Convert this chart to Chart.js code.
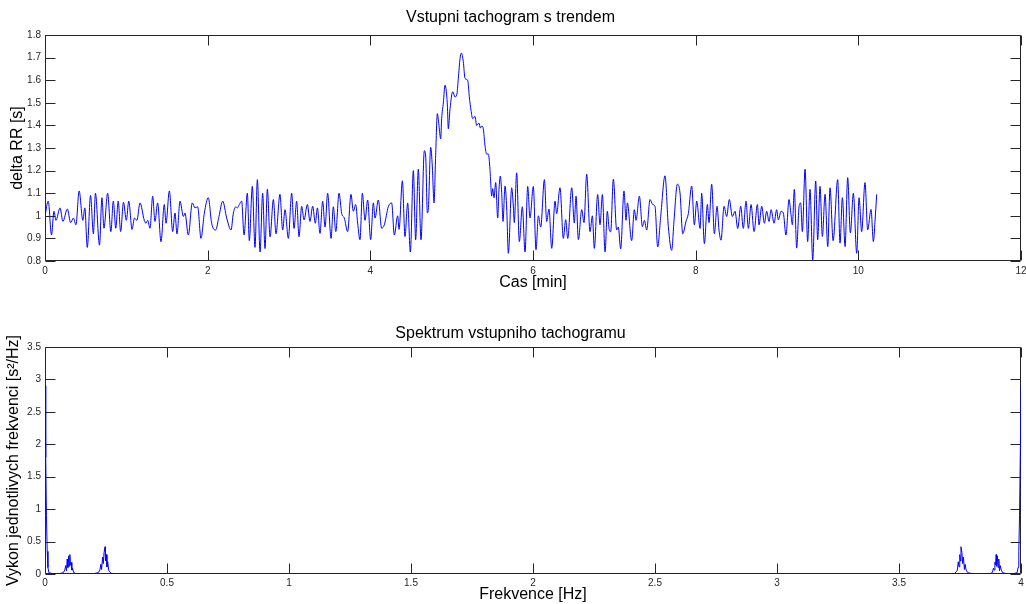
<!DOCTYPE html>
<html>
<head>
<meta charset="utf-8">
<title>Tachogram</title>
<script src="https://cdn.jsdelivr.net/npm/chart.js@4.4.1/dist/chart.umd.min.js"></script>
<style>
  html, body { margin: 0; padding: 0; background: #fff; }
  .plot { position: absolute; left: 0; width: 1026px; height: 302px; }
  #tachoPlot { top: 0; }
  #specPlot { top: 302px; }
</style>
</head>
<body>
<div class="plot" id="tachoPlot"><canvas id="tachoChart"></canvas></div>
<div class="plot" id="specPlot"><canvas id="specChart"></canvas></div>
<script>
// RR intervals over time [min] and [s]
const tachoTime = [
  0.000, 0.040, 0.080, 0.110, 0.135, 0.185, 0.220, 0.275, 0.315, 0.350,
  0.380, 0.420, 0.465, 0.490, 0.520, 0.560, 0.595, 0.620, 0.670, 0.700,
  0.725, 0.770, 0.810, 0.840, 0.870, 0.900, 0.930, 0.965, 1.000, 1.030,
  1.070, 1.100, 1.130, 1.168, 1.221, 1.242, 1.262, 1.291, 1.324, 1.352,
  1.385, 1.426, 1.467, 1.488, 1.529, 1.570, 1.598, 1.623, 1.660, 1.701,
  1.721, 1.762, 1.811, 1.844, 1.877, 1.918, 1.959, 2.008, 2.049, 2.098,
  2.139, 2.185, 2.234, 2.287, 2.316, 2.348, 2.365, 2.389, 2.418, 2.447,
  2.488, 2.512, 2.549, 2.582, 2.611, 2.644, 2.676, 2.705, 2.734, 2.767,
  2.808, 2.840, 2.889, 2.922, 2.951, 2.992, 3.033, 3.062, 3.094, 3.123,
  3.156, 3.185, 3.226, 3.258, 3.291, 3.324, 3.349, 3.381, 3.414, 3.443,
  3.475, 3.517, 3.545, 3.575, 3.615, 3.648, 3.680, 3.721, 3.762, 3.791,
  3.820, 3.844, 3.873, 3.902, 3.935, 3.967, 4.004, 4.037, 4.058, 4.098,
  4.139, 4.172, 4.221, 4.262, 4.295, 4.336, 4.353, 4.394, 4.426, 4.459,
  4.492, 4.529, 4.557, 4.590, 4.623, 4.664, 4.681, 4.701, 4.713, 4.742,
  4.762, 4.783, 4.803, 4.824, 4.844, 4.865, 4.877, 4.898, 4.918, 4.930,
  4.947, 4.959, 4.980, 5.013, 5.041, 5.062, 5.082, 5.103, 5.119, 5.143,
  5.164, 5.197, 5.217, 5.238, 5.258, 5.287, 5.307, 5.336, 5.353, 5.369,
  5.389, 5.410, 5.430, 5.451, 5.471, 5.492, 5.504, 5.521, 5.541, 5.566,
  5.582, 5.598, 5.615, 5.631, 5.656, 5.677, 5.697, 5.738, 5.758, 5.770,
  5.799, 5.832, 5.869, 5.902, 5.935, 5.963, 6.004, 6.037, 6.066, 6.095,
  6.140, 6.168, 6.197, 6.230, 6.271, 6.291, 6.332, 6.373, 6.402, 6.427,
  6.476, 6.508, 6.529, 6.558, 6.599, 6.627, 6.660, 6.701, 6.730, 6.754,
  6.795, 6.824, 6.853, 6.886, 6.914, 6.935, 6.955, 6.988, 7.029, 7.049,
  7.078, 7.119, 7.144, 7.160, 7.213, 7.246, 7.267, 7.308, 7.345, 7.370,
  7.398, 7.439, 7.472, 7.500, 7.533, 7.570, 7.623, 7.664, 7.705, 7.734,
  7.775, 7.808, 7.841, 7.881, 7.910, 7.951, 7.984, 8.013, 8.054, 8.074,
  8.107, 8.144, 8.164, 8.197, 8.230, 8.263, 8.287, 8.312, 8.349, 8.381,
  8.414, 8.451, 8.484, 8.517, 8.554, 8.586, 8.619, 8.648, 8.681, 8.718,
  8.759, 8.779, 8.812, 8.845, 8.873, 8.902, 8.927, 8.964, 8.996, 9.016,
  9.050, 9.078, 9.110, 9.148, 9.172, 9.189, 9.213, 9.242, 9.271, 9.291,
  9.312, 9.345, 9.377, 9.406, 9.439, 9.476, 9.500, 9.529, 9.558, 9.591,
  9.624, 9.652, 9.690, 9.746, 9.775, 9.804, 9.837, 9.869, 9.902, 9.939,
  9.980, 10.009, 10.041, 10.082, 10.115, 10.156, 10.185, 10.205, 10.226
];
const tachoRR = [
  1.000, 1.065, 0.915, 1.020, 0.980, 1.035, 0.975, 1.030, 0.970, 0.990,
  0.960, 1.110, 0.980, 1.035, 0.860, 1.090, 0.920, 1.100, 0.870, 1.080,
  0.945, 1.100, 0.930, 1.065, 0.945, 1.065, 0.930, 1.060, 0.980, 1.065,
  0.940, 0.990, 0.980, 1.057, 0.980, 0.967, 0.980, 0.945, 1.087, 0.975,
  1.057, 0.885, 1.050, 0.967, 1.110, 0.930, 1.012, 0.920, 1.065, 0.997,
  1.012, 0.915, 1.057, 1.035, 1.040, 0.900, 1.012, 1.080, 0.967, 0.937,
  0.997, 1.065, 0.990, 0.937, 1.012, 1.040, 1.035, 1.050, 1.065, 0.915,
  1.100, 0.890, 1.130, 0.860, 1.160, 0.840, 1.100, 0.855, 1.117, 0.907,
  1.072, 0.920, 1.095, 0.937, 1.027, 0.900, 1.100, 0.944, 1.065, 0.907,
  1.042, 0.982, 1.050, 0.975, 1.042, 0.967, 1.035, 0.922, 1.065, 0.950,
  1.100, 0.900, 1.040, 0.930, 1.100, 1.010, 0.990, 0.930, 1.095, 1.020,
  1.050, 0.968, 0.894, 1.100, 0.980, 1.070, 0.894, 1.057, 0.990, 1.070,
  0.945, 0.960, 1.040, 1.057, 0.915, 1.000, 0.940, 1.155, 0.908, 1.057,
  0.840, 1.200, 0.894, 1.206, 0.894, 1.288, 1.260, 1.013, 1.028, 1.303,
  1.220, 1.057, 1.266, 1.452, 1.400, 1.340, 1.430, 1.500, 1.578, 1.563,
  1.490, 1.385, 1.474, 1.549, 1.526, 1.534, 1.608, 1.697, 1.720, 1.682,
  1.608, 1.600, 1.526, 1.467, 1.430, 1.440, 1.400, 1.410, 1.388, 1.397,
  1.385, 1.310, 1.273, 1.273, 1.206, 1.087, 1.120, 1.080, 1.147, 0.990,
  1.117, 1.176, 1.102, 0.975, 1.132, 1.030, 0.834, 1.124, 1.043, 0.970,
  1.190, 0.886, 1.040, 0.840, 1.130, 0.990, 1.130, 0.850, 1.000, 0.950,
  1.160, 0.975, 1.030, 0.856, 1.065, 1.010, 1.124, 0.900, 0.983, 0.900,
  1.124, 0.968, 1.087, 0.894, 1.027, 0.970, 1.184, 0.930, 1.000, 0.856,
  1.094, 0.960, 1.094, 0.840, 1.020, 0.944, 0.929, 1.162, 0.937, 0.950,
  0.854, 1.110, 0.980, 1.057, 0.890, 1.027, 0.980, 1.087, 0.952, 0.980,
  0.937, 1.072, 1.050, 1.042, 0.862, 0.997, 1.177, 0.952, 0.847, 0.980,
  1.140, 1.100, 0.920, 0.975, 1.010, 1.132, 0.960, 1.065, 0.944, 1.100,
  0.877, 1.050, 0.970, 1.140, 0.920, 1.042, 0.937, 0.892, 1.042, 0.997,
  1.072, 0.997, 1.020, 0.944, 1.042, 0.944, 1.065, 0.944, 1.050, 0.930,
  1.050, 0.960, 1.042, 0.967, 1.020, 0.975, 1.027, 0.967, 1.027, 0.982,
  1.020, 1.012, 0.915, 1.072, 1.005, 0.960, 1.117, 0.857, 1.040, 1.057,
  0.930, 1.206, 0.886, 1.117, 0.805, 1.154, 0.894, 1.130, 0.909, 1.095,
  0.864, 1.124, 0.890, 1.160, 0.879, 1.080, 0.864, 1.169, 0.924, 1.100,
  0.834, 1.080, 0.930, 1.147, 0.938, 1.028, 0.886, 0.976, 1.095
];

// power spectrum of the tachogram, frequency [Hz] and power [s^2/Hz]
const specFreq = [
  0, 0.003, 0.006, 0.009, 0.012, 0.016, 0.03, 0.05, 0.065, 0.075,
  0.081, 0.085, 0.088, 0.091, 0.094, 0.097, 0.1, 0.102, 0.104, 0.107,
  0.11, 0.113, 0.117, 0.125, 0.16, 0.2, 0.218, 0.225, 0.229, 0.232,
  0.236, 0.239, 0.242, 0.246, 0.248, 0.251, 0.254, 0.257, 0.261, 0.265,
  0.272, 0.3, 0.5, 1, 1.5, 2, 2.5, 3, 3.5,
  3.7, 3.728, 3.735, 3.739, 3.743, 3.746, 3.749, 3.752, 3.754, 3.758,
  3.761, 3.764, 3.768, 3.771, 3.775, 3.782, 3.8, 3.84, 3.875, 3.883,
  3.887, 3.89, 3.893, 3.896, 3.898, 3.9, 3.903, 3.906, 3.909, 3.912,
  3.915, 3.919, 3.925, 3.935, 3.95, 3.97, 3.984, 3.988, 3.991, 3.994,
  3.997, 4
];
const specPower = [
  2.9, 1.8, 0.9, 0.35, 0.1, 0.02, 0.006, 0.004, 0.01, 0.02,
  0.06, 0.13, 0.05, 0.23, 0.1, 0.28, 0.12, 0.30, 0.14, 0.18,
  0.06, 0.09, 0.025, 0.008, 0.003, 0.006, 0.02, 0.06, 0.15, 0.07,
  0.26, 0.16, 0.33, 0.42, 0.2, 0.30, 0.11, 0.19, 0.06, 0.035,
  0.01, 0.003, 0.001, 0.001, 0.001, 0.001, 0.001, 0.001, 0.001,
  0.003, 0.01, 0.035, 0.06, 0.19, 0.11, 0.30, 0.2, 0.42, 0.33,
  0.16, 0.26, 0.07, 0.15, 0.06, 0.02, 0.006, 0.003, 0.008, 0.025,
  0.09, 0.06, 0.18, 0.14, 0.30, 0.12, 0.28, 0.1, 0.23, 0.05,
  0.13, 0.06, 0.02, 0.01, 0.004, 0.006, 0.02, 0.1, 0.35, 0.9,
  1.8, 2.9
];

const axisColor = '#262626';
const fontFamily = "'Liberation Sans', Arial, Helvetica, sans-serif";
const tickFont = { family: fontFamily, size: 10 };
const labelFont = { family: fontFamily, size: 16 };
const tickLen = 10;

Chart.defaults.font.family = fontFamily;
Chart.defaults.animation = false;

// matlab-like axes: full box with ticks pointing inwards on all four sides
const axesBox = {
  id: 'axesBox',
  beforeDatasetsDraw(chart) {
    const { ctx, chartArea: a, scales } = chart;
    const L = Math.round(a.left) + 0.5, R = Math.round(a.right) - 0.5;
    const T = Math.round(a.top) + 0.5, B = Math.round(a.bottom) - 0.5;
    ctx.save();
    ctx.strokeStyle = axisColor;
    ctx.lineWidth = 1;
    ctx.beginPath();
    ctx.rect(L, T, R - L, B - T);
    scales.x.ticks.forEach((t, i) => {
      const px = Math.round(scales.x.getPixelForTick(i)) + 0.5;
      ctx.moveTo(px, B); ctx.lineTo(px, B - tickLen);
      ctx.moveTo(px, T); ctx.lineTo(px, T + tickLen);
    });
    scales.y.ticks.forEach((t, i) => {
      const py = Math.round(scales.y.getPixelForTick(i)) + 0.5;
      ctx.moveTo(L, py); ctx.lineTo(L + tickLen, py);
      ctx.moveTo(R, py); ctx.lineTo(R - tickLen, py);
    });
    ctx.stroke();
    ctx.restore();
  }
};

function makeOptions(cfg) {
  return {
    responsive: true,
    maintainAspectRatio: false,
    layout: { padding: { left: 0, right: 5, top: 0, bottom: 0 } },
    plugins: {
      legend: { display: false },
      tooltip: { enabled: false },
      title: {
        display: true,
        text: cfg.title,
        color: '#000',
        font: { family: fontFamily, size: 16, weight: 'normal' },
        padding: cfg.titlePad
      }
    },
    scales: {
      x: {
        type: 'linear',
        min: cfg.xMin, max: cfg.xMax,
        grid: { display: false, drawTicks: false },
        border: { display: false },
        ticks: {
          stepSize: cfg.xStep, padding: cfg.xTickPad, maxRotation: 0,
          color: axisColor, font: tickFont,
          callback: v => String(+v.toFixed(2))
        },
        title: {
          display: true, text: cfg.xLabel, color: '#000', font: labelFont,
          padding: { top: 0, bottom: cfg.xLabelPad }
        },
        afterFit(s) { s.height = cfg.xHeight; s.paddingLeft = 0; s.paddingRight = 0; }
      },
      y: {
        type: 'linear',
        min: cfg.yMin, max: cfg.yMax,
        grid: { display: false, drawTicks: false },
        border: { display: false },
        ticks: {
          stepSize: cfg.yStep, padding: 4,
          color: axisColor, font: tickFont,
          callback: v => String(+v.toFixed(2))
        },
        title: {
          display: true, text: cfg.yLabel, color: '#000', font: labelFont,
          padding: { top: cfg.yLabelPad, bottom: 0 }
        },
        afterFit(s) { s.width = 45; }
      }
    }
  };
}

new Chart(document.getElementById('tachoChart'), {
  type: 'line',
  data: {
    datasets: [{
      data: tachoTime.map((t, i) => ({ x: t, y: tachoRR[i] })),
      borderColor: '#0000ff',
      borderWidth: 1,
      pointRadius: 0,
      cubicInterpolationMode: 'monotone',
      fill: false
    }]
  },
  options: makeOptions({
    title: 'Vstupni tachogram s trendem',
    titlePad: { top: 8.4, bottom: 7.4 },
    xMin: 0, xMax: 12, xStep: 2, xTickPad: 4,
    xLabel: 'Cas [min]', xLabelPad: 9.4, xHeight: 41,
    yMin: 0.8, yMax: 1.8, yStep: 0.1,
    yLabel: 'delta RR [s]', yLabelPad: 8.4
  }),
  plugins: [axesBox]
});

new Chart(document.getElementById('specChart'), {
  type: 'line',
  data: {
    datasets: [{
      data: specFreq.map((f, i) => ({ x: f, y: specPower[i] })),
      borderColor: '#0000ff',
      borderWidth: 1,
      pointRadius: 0,
      tension: 0,
      fill: false
    }]
  },
  options: makeOptions({
    title: 'Spektrum vstupniho tachogramu',
    titlePad: { top: 22.4, bottom: 3.4 },
    xMin: 0, xMax: 4, xStep: 0.5, xTickPad: 3,
    xLabel: 'Frekvence [Hz]', xLabelPad: 0, xHeight: 30,
    yMin: 0, yMax: 3.5, yStep: 0.5,
    yLabel: 'Vykon jednotlivych frekvenci [s²/Hz]', yLabelPad: 4.4
  }),
  plugins: [axesBox]
});
</script>
</body>
</html>
